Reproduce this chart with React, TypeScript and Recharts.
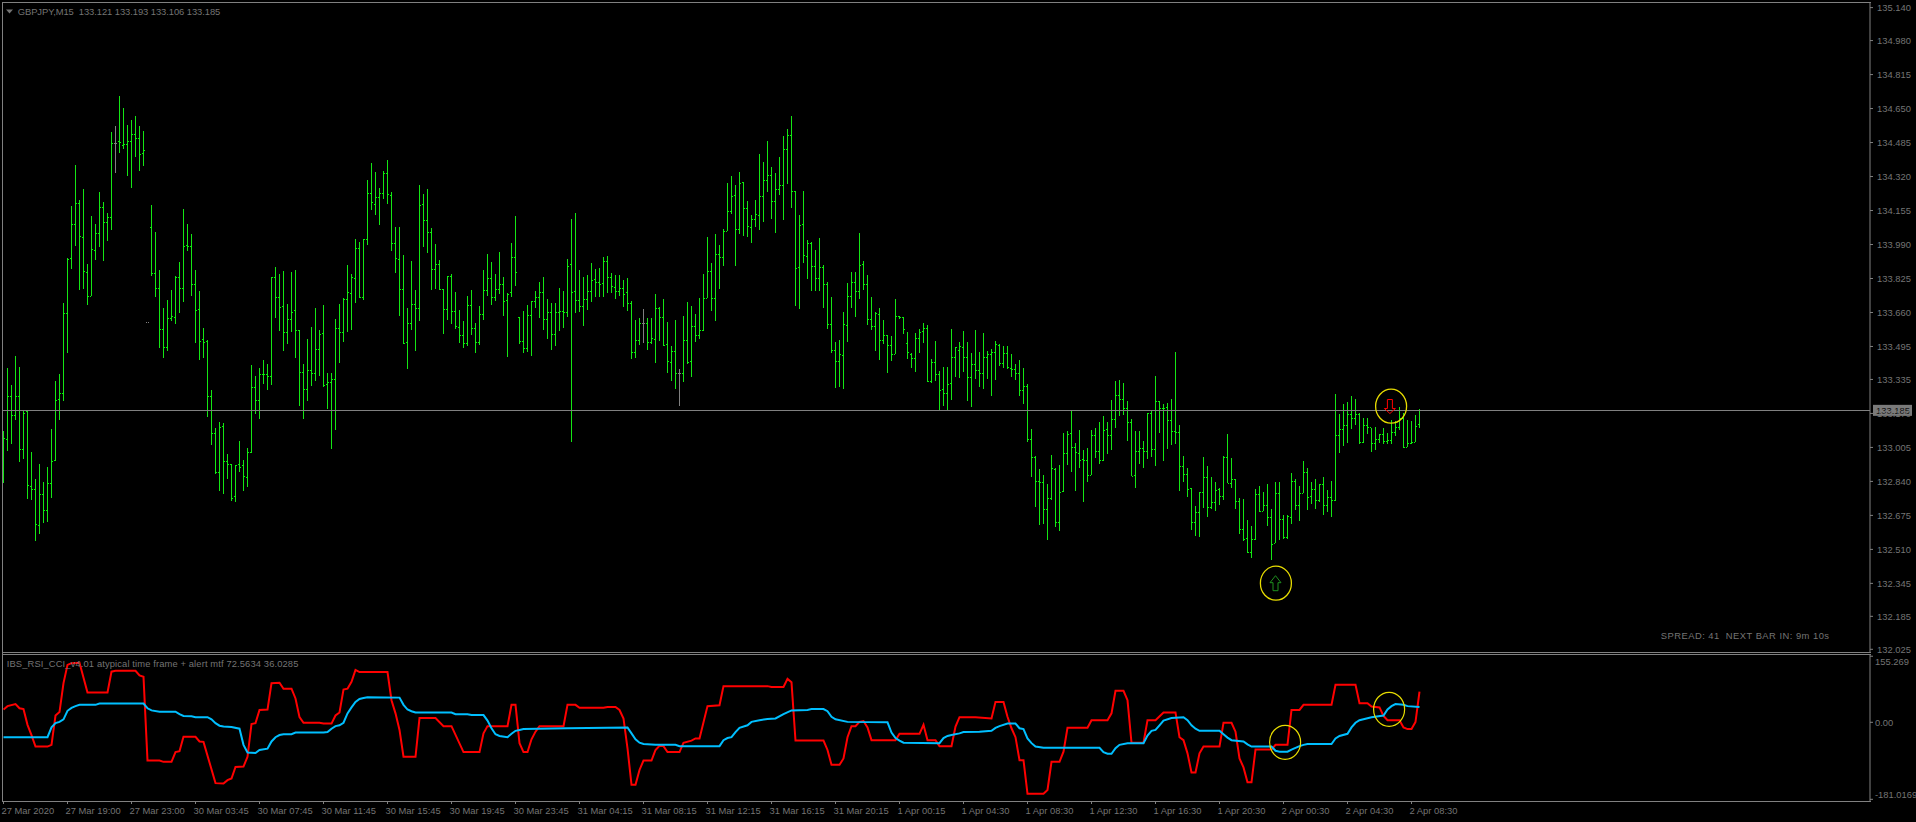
import React from 'react';
import { ComposedChart, Bar, Line, XAxis, YAxis, ReferenceLine, ReferenceDot } from 'recharts';

const highs = [
133.085,133.389,133.308,133.449,133.395,133.182,133.185,132.981,132.852,132.925,132.837,132.910,133.094,133.327,133.361,133.706,
133.923,134.177,134.376,134.205,134.260,133.895,134.128,134.090,134.245,134.196,134.143,134.536,134.565,134.711,134.653,134.570,
134.594,134.614,134.565,134.541,133.612,134.182,134.051,133.866,133.682,133.721,133.769,133.837,133.905,134.162,134.090,134.041,
133.866,133.764,133.585,133.526,133.284,133.099,133.128,133.124,132.973,132.925,132.920,133.036,132.944,133.002,133.405,133.352,
133.391,133.429,133.410,133.832,133.881,133.847,133.861,133.701,133.857,133.866,133.575,133.410,133.531,133.590,133.682,133.575,
133.696,133.366,133.366,133.628,133.701,133.729,133.890,133.847,134.017,134.002,134.017,134.303,134.386,134.342,134.264,134.347,
134.400,134.245,134.075,134.075,133.939,133.682,133.910,133.769,134.279,134.235,134.260,134.070,133.992,133.915,133.774,133.837,
133.847,133.759,133.672,133.619,133.740,133.769,133.609,133.692,133.866,133.944,133.905,133.847,133.954,133.832,133.755,133.997,
134.128,133.640,133.667,133.696,133.716,133.764,133.808,133.832,133.726,133.706,133.706,133.779,133.764,133.920,134.114,134.143,
133.866,133.832,133.842,133.900,133.871,133.876,133.929,133.934,133.852,133.842,133.842,133.818,133.828,133.716,133.624,133.633,
133.677,133.633,133.633,133.750,133.685,133.726,133.614,133.497,133.624,133.386,133.643,133.711,133.692,133.653,133.730,133.847,
134.027,133.900,134.041,133.988,134.065,134.289,134.323,134.279,134.342,134.293,134.201,134.133,134.206,134.429,134.391,134.493,
134.366,134.337,134.415,134.517,134.551,134.614,134.250,134.133,134.250,134.012,134.002,133.963,134.022,133.889,133.808,133.735,
133.517,133.526,133.662,133.803,133.857,133.857,134.046,133.910,133.842,133.735,133.662,133.682,133.624,133.551,133.546,133.726,
133.643,133.638,133.565,133.463,133.560,133.580,133.609,133.599,133.434,133.522,133.376,133.395,133.395,133.580,133.492,133.517,
133.570,133.517,133.463,133.575,133.468,133.560,133.473,133.483,133.522,133.507,133.497,133.497,133.459,133.410,133.429,133.391,
133.313,133.094,132.962,132.900,132.871,132.827,132.968,132.905,132.920,133.075,133.085,133.187,133.027,133.090,132.992,133.002,
133.090,133.099,133.128,133.158,133.128,133.235,133.327,133.332,133.318,133.230,133.143,133.085,133.085,133.036,133.172,133.182,
133.352,133.230,133.216,133.221,133.240,133.468,133.114,132.963,132.905,132.808,132.721,132.789,132.959,132.915,132.861,132.837,
132.808,132.963,133.070,132.954,132.852,132.759,132.755,132.653,132.624,132.803,132.818,132.789,132.827,132.706,132.837,132.837,
132.677,132.677,132.881,132.852,132.818,132.939,132.905,132.837,132.852,132.827,132.861,132.798,132.842,133.264,133.167,133.216,
133.226,133.255,133.240,133.172,133.148,133.148,133.099,133.104,133.070,133.099,133.075,133.138,133.133,133.201,133.172,133.138,
133.133,133.162,133.191];

const lows = [
132.834,132.984,133.023,133.140,132.936,132.950,132.755,132.746,132.551,132.586,132.640,132.645,132.761,132.939,133.140,133.230,
133.460,133.873,133.983,133.766,133.776,133.698,133.740,133.915,133.978,133.910,134.007,134.060,134.337,134.434,134.454,134.323,
134.264,134.415,134.347,134.371,133.612,133.837,133.735,133.488,133.439,133.473,133.619,133.604,133.658,133.711,133.959,133.740,
133.512,133.429,133.439,133.153,133.017,132.876,132.793,132.779,132.852,132.745,132.740,132.886,132.793,132.813,132.978,133.167,
133.143,133.313,133.284,133.308,133.633,133.570,133.473,133.507,133.565,133.439,133.206,133.143,133.230,133.303,133.327,133.352,
133.298,133.192,132.997,133.090,133.415,133.517,133.565,133.575,133.706,133.729,133.721,133.988,134.158,134.133,134.085,134.211,
134.187,133.959,133.852,133.643,133.507,133.386,133.575,133.473,133.619,133.978,133.949,133.769,133.774,133.769,133.556,133.624,
133.604,133.580,133.512,133.488,133.497,133.551,133.463,133.502,133.624,133.740,133.696,133.716,133.750,133.643,133.444,133.735,
133.789,133.507,133.463,133.468,133.449,133.682,133.633,133.575,133.531,133.478,133.497,133.570,133.585,133.638,133.031,133.658,
133.662,133.594,133.672,133.711,133.735,133.735,133.735,133.755,133.755,133.726,133.740,133.687,133.667,133.434,133.439,133.502,
133.512,133.478,133.507,133.415,133.522,133.497,133.366,133.327,133.289,133.206,133.323,133.410,133.347,133.517,133.531,133.570,
133.729,133.667,133.619,133.774,133.886,134.056,134.138,133.886,134.041,134.031,134.027,133.997,134.075,134.060,134.099,134.245,
134.114,134.046,134.230,134.109,134.284,134.167,133.692,133.677,133.900,133.823,133.764,133.764,133.764,133.682,133.580,133.463,
133.293,133.298,133.289,133.517,133.682,133.638,133.726,133.769,133.599,133.575,133.473,133.429,133.507,133.366,133.425,133.459,
133.628,133.556,133.434,133.391,133.371,133.463,133.512,133.323,133.318,133.327,133.185,133.206,133.185,133.235,133.347,133.342,
133.371,133.230,133.201,133.337,133.298,133.289,133.337,133.255,133.332,133.400,133.391,133.386,133.347,133.332,133.255,133.216,
133.031,132.861,132.716,132.628,132.633,132.556,132.750,132.619,132.599,132.789,132.920,132.886,132.793,132.905,132.740,132.837,
132.871,132.954,132.925,132.939,132.973,132.992,133.099,133.158,133.162,133.036,132.866,132.808,132.925,132.905,132.949,132.959,
132.915,133.075,132.939,132.997,133.017,133.022,132.793,132.837,132.764,132.604,132.575,132.570,132.711,132.667,132.706,132.696,
132.725,132.750,132.832,132.808,132.706,132.585,132.551,132.492,132.468,132.556,132.692,132.696,132.624,132.459,132.541,132.556,
132.561,132.561,132.633,132.701,132.648,132.784,132.701,132.730,132.706,132.740,132.677,132.692,132.667,132.745,132.978,133.012,
133.027,133.094,133.114,133.022,133.027,133.070,132.983,132.992,133.027,133.022,133.022,133.020,133.060,133.090,133.002,133.007,
133.022,133.031,133.099];

const opens = [
133.040,133.044,133.253,133.161,133.253,132.996,133.182,132.817,132.802,132.627,132.777,132.700,132.831,132.944,133.239,133.268,
133.658,133.923,134.088,134.190,134.027,133.857,133.739,133.962,134.044,134.171,134.098,134.122,134.481,134.491,134.472,134.477,
134.491,134.525,134.506,134.433,133.612,134.074,133.853,133.777,133.578,133.491,133.632,133.637,133.832,133.777,133.986,133.981,
133.797,133.677,133.530,133.520,133.253,133.074,132.886,133.109,132.938,132.923,132.768,132.923,132.920,132.860,132.981,133.297,
133.234,133.360,133.360,133.350,133.831,133.734,133.692,133.564,133.627,133.672,133.575,133.370,133.287,133.379,133.365,133.481,
133.559,133.312,133.321,133.336,133.587,133.564,133.724,133.753,133.829,133.972,133.734,134.015,134.239,134.185,134.219,134.239,
134.336,134.229,133.997,133.918,133.773,133.515,133.608,133.700,133.682,134.187,134.108,134.049,133.870,133.894,133.773,133.676,
133.836,133.666,133.588,133.549,133.511,133.695,133.583,133.515,133.651,133.768,133.826,133.734,133.773,133.797,133.719,133.759,
133.928,133.640,133.520,133.486,133.646,133.714,133.734,133.758,133.627,133.661,133.554,133.661,133.666,133.661,133.894,133.763,
133.719,133.690,133.724,133.763,133.821,133.807,133.802,133.909,133.831,133.782,133.763,133.777,133.758,133.705,133.467,133.525,
133.608,133.608,133.515,133.530,133.680,133.637,133.506,133.418,133.472,133.365,133.365,133.528,133.423,133.593,133.549,133.574,
133.729,133.860,133.729,133.943,133.928,134.054,134.151,134.229,134.064,134.292,134.166,134.073,134.112,134.132,134.224,134.302,
134.326,134.200,134.258,134.277,134.452,134.520,134.248,133.880,134.088,133.933,133.997,133.884,133.826,133.879,133.797,133.603,
133.477,133.423,133.452,133.598,133.739,133.807,133.763,133.894,133.797,133.627,133.593,133.651,133.525,133.549,133.501,133.457,
133.642,133.638,133.510,133.457,133.438,133.535,133.569,133.583,133.326,133.418,133.360,133.287,133.268,133.316,133.443,133.477,
133.491,133.443,133.345,133.409,133.379,133.365,133.443,133.457,133.467,133.502,133.413,133.462,133.389,133.384,133.365,133.282,
133.302,133.044,132.957,132.841,132.837,132.705,132.758,132.899,132.642,132.792,132.977,133.074,133.006,132.977,132.948,132.945,
132.870,133.064,132.986,132.943,133.093,133.065,133.143,133.258,133.239,133.195,133.127,132.870,132.986,133.001,132.986,133.171,
132.996,133.229,133.195,133.200,133.137,133.083,133.079,132.915,132.875,132.807,132.642,132.690,132.787,132.860,132.714,132.739,
132.802,132.768,132.959,132.831,132.850,132.744,132.607,132.565,132.496,132.559,132.777,132.695,132.724,132.666,132.540,132.782,
132.656,132.570,132.666,132.841,132.724,132.782,132.884,132.768,132.802,132.748,132.826,132.724,132.763,132.748,133.064,133.093,
133.112,133.166,133.146,133.166,133.030,133.112,133.103,133.025,133.044,133.069,133.035,133.040,133.079,133.103,133.148,133.006,
133.025,133.030,133.119];

const closes = [
133.049,133.253,133.161,133.253,132.996,133.171,132.821,132.802,132.632,132.777,132.700,132.831,132.941,133.234,133.268,133.658,
133.921,134.088,134.190,134.030,133.860,133.739,133.967,134.044,134.171,134.098,134.122,134.481,134.481,134.490,134.477,134.491,
134.525,134.506,134.428,134.447,133.612,133.853,133.777,133.578,133.491,133.632,133.642,133.832,133.777,133.981,133.981,133.797,
133.672,133.520,133.515,133.253,133.074,132.884,133.104,132.938,132.923,132.758,132.920,132.910,132.865,132.981,133.297,133.234,
133.360,133.360,133.350,133.831,133.734,133.687,133.564,133.627,133.661,133.575,133.370,133.287,133.379,133.365,133.481,133.554,
133.307,133.321,133.336,133.583,133.564,133.724,133.758,133.832,133.972,133.737,134.015,134.239,134.195,134.219,134.239,134.336,
134.234,133.997,133.923,133.773,133.511,133.608,133.700,133.682,134.182,134.108,134.049,133.870,133.894,133.773,133.676,133.836,
133.666,133.593,133.549,133.511,133.695,133.583,133.515,133.651,133.768,133.826,133.734,133.773,133.797,133.714,133.750,133.928,
133.855,133.520,133.486,133.646,133.714,133.734,133.758,133.627,133.661,133.554,133.661,133.666,133.661,133.884,133.758,133.719,
133.690,133.724,133.763,133.816,133.807,133.797,133.909,133.831,133.787,133.763,133.777,133.748,133.705,133.467,133.525,133.608,
133.608,133.515,133.535,133.680,133.637,133.501,133.423,133.472,133.365,133.365,133.528,133.418,133.593,133.549,133.574,133.729,
133.860,133.729,133.943,133.928,134.054,134.151,134.224,134.064,134.287,134.166,134.078,134.112,134.137,134.224,134.302,134.326,
134.200,134.258,134.277,134.452,134.520,134.248,133.875,134.083,133.938,133.997,133.884,133.826,133.879,133.797,133.603,133.477,
133.423,133.457,133.603,133.739,133.807,133.763,133.889,133.797,133.627,133.593,133.656,133.525,133.549,133.501,133.457,133.642,
133.638,133.578,133.467,133.438,133.535,133.564,133.583,133.326,133.418,133.360,133.282,133.268,133.311,133.443,133.491,133.496,
133.443,133.345,133.409,133.379,133.365,133.443,133.457,133.467,133.507,133.413,133.462,133.394,133.384,133.365,133.282,133.302,
133.044,132.957,132.841,132.837,132.705,132.758,132.904,132.642,132.787,132.977,133.069,133.006,132.981,132.943,132.945,132.870,
133.064,132.986,132.943,133.088,133.065,133.143,133.258,133.239,133.195,133.127,132.865,132.986,133.001,132.986,133.171,132.996,
133.229,133.195,133.195,133.137,133.083,133.079,132.915,132.875,132.802,132.642,132.690,132.787,132.860,132.714,132.739,132.797,
132.768,132.959,132.831,132.850,132.744,132.610,132.560,132.496,132.559,132.777,132.695,132.724,132.666,132.535,132.782,132.656,
132.570,132.671,132.841,132.724,132.782,132.884,132.763,132.802,132.748,132.826,132.724,132.763,132.748,133.064,133.093,133.112,
133.166,133.146,133.166,133.033,133.112,133.103,133.025,133.044,133.069,133.035,133.040,133.079,133.103,133.148,133.006,133.025,
133.030,133.108,133.185];

const dojiBars = [28, 36, 160, 169];

const redBars = [0,1,3,4,5,6,7,8,11,12,13,14,15,16,17,19,21,26,27,28,33,34,35,36,39,40,42,43,44,45,48,49,50,53,55,56,57,58,60,61,62,63,64,66,67,69,70,72,73,74,75,79,80,82,83,84,85,86,87,88,89,96,97,98,99,100,103,104,108,110,112,115,119,120,121,
126,127,128,129,130,131,132,133,134,140,141,143,144,150,151,153,154,155,156,157,158,159,160,162,163,164,165,166,169,170,172,173,174,176,179,180,191,192,195,196,197,198,205,206,207,209,210,211,212,213,214,215,216,217,223,224,229,230,231,233,234,237,238,239,243,
247,248,250,251,252,253,254,255,256,260,261,262,264,265,266,271,272,276,277,278,280,281,282,285,286,288,290,293,294,295,296,297,298,299,300,304,305,307,308,309,310,311,312,313,317,318,321,322,324,325,332,333,338,339,341,342,344,345,346,349,350,351,352,353,354];
const redVals = [30,38,43,33,31,-6,-30,-57,-57,-53,16,24,92,135,139,140,70,70,119,121,121,110,107,-90,-90,-93,-93,-70,-68,-34,-34,-45,-46,-143,-144,-136,-132,-105,-104,-81,-4,-2,29,30,92,93,79,79,56,12,-1,-1,-3,-3,16,23,77,79,95,123,118,118,52,21,-18,-81,-81,10,10,-9,-9,-70,-70,-26,-9,
-9,41,41,-49,-70,-70,-40,-22,-9,-9,41,41,34,34,36,36,29,9,-61,-147,-147,-112,-90,-90,-65,-55,-56,-70,-70,-48,-43,-38,-38,38,40,85,85,83,83,102,94,-43,-43,-65,-100,-100,-85,-35,-9,-9,1,3,-12,-42,-42,-27,-27,-6,-42,-42,-56,-56,-10,12,12,
9,48,48,13,-14,-35,-89,-89,-168,-168,-159,-93,-93,-69,-13,-13,5,5,21,74,74,52,-48,-48,5,5,23,23,-35,-42,-73,-118,-118,-73,-57,-57,-1,-1,-22,-85,-106,-141,-141,-64,-64,-53,-53,29,29,41,41,88,88,45,45,37,35,15,5,5,-12,-16,-16,1,72];

const blueBars = [0,11,12,13,14,15,16,17,18,19,23,24,35,36,37,39,43,44,45,47,48,51,52,53,54,55,57,59,60,61,63,64,66,67,68,69,70,72,73,80,81,82,83,84,85,86,87,88,89,90,91,99,100,101,102,103,112,113,116,117,120,121,122,123,124,
126,127,128,129,130,141,156,157,158,159,160,162,163,168,169,179,180,181,182,183,184,186,187,189,191,193,195,197,201,202,205,206,207,208,211,221,222,223,224,225,234,235,236,237,239,240,244,
247,248,249,251,253,254,255,256,257,258,260,274,275,276,277,278,279,281,285,286,287,288,289,290,292,295,296,297,298,299,304,305,306,307,310,311,312,317,318,319,321,322,324,325,326,332,333,334,336,337,338,339,342,345,346,347,348,350,351,354];
const blueVals = [-35,-35,-12,-2,1,7,27,34,38,41,41,44,44,33,28,25,25,19,15,14,12,12,7,-2,-8,-10,-11,-15,-53,-71,-72,-65,-62,-45,-35,-30,-28,-28,-24,-24,-23,-15,-9,-7,-1,21,35,48,55,57,59,58,41,30,26,23,23,19,19,17,17,4,-14,-28,-32,
-35,-27,-20,-18,-16,-14,-12,-26,-40,-48,-51,-52,-53,-53,-56,-56,-42,-37,-35,-23,-13,-7,1,5,8,9,19,28,29,31,31,26,13,7,1,0,-24,-37,-43,-48,-49,-37,-32,-30,-26,-23,-22,
-20,-13,-9,-3,-3,-14,-16,-38,-49,-57,-60,-60,-70,-74,-74,-61,-53,-49,-49,-31,-20,-18,-7,4,10,12,5,-7,-15,-20,-20,-28,-36,-42,-45,-52,-57,-57,-67,-69,-69,-64,-56,-53,-51,-51,-38,-32,-27,-12,-1,5,12,16,30,38,43,41,38,36];

const xLabels = ['27 Mar 2020','27 Mar 19:00','27 Mar 23:00','30 Mar 03:45','30 Mar 07:45','30 Mar 11:45','30 Mar 15:45','30 Mar 19:45','30 Mar 23:45','31 Mar 04:15','31 Mar 08:15','31 Mar 12:15','31 Mar 16:15','31 Mar 20:15','1 Apr 00:15','1 Apr 04:30','1 Apr 08:30','1 Apr 12:30','1 Apr 16:30','1 Apr 20:30','2 Apr 00:30','2 Apr 04:30','2 Apr 08:30'];
const xTickBars = [0,16,32,48,64,80,96,112,128,144,160,176,192,208,224,240,256,272,288,304,320,336,352];
const priceTicks = [135.14,134.98,134.815,134.65,134.485,134.32,134.155,133.99,133.825,133.66,133.495,133.335,133.17,133.005,132.84,132.675,132.51,132.345,132.185,132.025];
const indTicks = [155.269, 0, -181.0169];
const indTickText = ['155.269','0.00','-181.0169'];
const lastPrice = 133.185;
const header = 'GBPJPY,M15  133.121 133.193 133.106 133.185';
const indicatorTitle = 'IBS_RSI_CCI_v4.01 atypical time frame + alert mtf 72.5634 36.0285';
const footer = 'SPREAD: 41  NEXT BAR IN: 9m 10s';

const upArrow = { bar: 318, price: 132.346 };
const downArrow = { bar: 346.6, price: 133.206 };
const priceCircles = [{ bar: 318.1, price: 132.346 }, { bar: 346.9, price: 133.205 }];
const indCircles = [{ bar: 320.4, value: -47 }, { bar: 346.4, value: 30.6 }];

const W = 1916, H = 822;
const FONT = '"Liberation Sans", Arial, sans-serif';
const GRAY = '#808080';
const TXT = '#747474';
const FS = 9.4;

const priceRows = highs.map((high, i) => ({ i, high, low: lows[i], open: opens[i], close: closes[i], range: [lows[i], high] }));
const indRows = highs.map((_, i) => {
  const r = redBars.indexOf(i), b = blueBars.indexOf(i);
  return { i, red: r >= 0 ? redVals[r] : null, blue: b >= 0 ? blueVals[b] : null };
});

const OhlcShape = (p: any) => {
  const { x, y, width, height, payload } = p;
  const { high, low, open, close, i } = payload;
  const px = Math.floor(x + width / 2);
  const top = Math.min(y, y + height);
  const h = Math.abs(height);
  const k = high > low ? h / (high - low) : 0;
  const yo = Math.round(top + (high - open) * k);
  const yc = Math.round(top + (high - close) * k);
  const doji = dojiBars.includes(i);
  const col = doji ? GRAY : '#14e614';
  const tick = doji ? GRAY : '#00ff00';
  return (
    <g shapeRendering="crispEdges">
      <rect x={px} y={Math.round(top)} width={1} height={Math.max(1, Math.round(h))} fill={h > 0.5 ? col : 'none'} />
      <rect x={px - 1} y={yo} width={1} height={1} fill={tick} />
      <rect x={px + 1} y={yc} width={1} height={1} fill={tick} />
    </g>
  );
};

const PriceTick = (p: any) => (
  <text x={p.x + 2} y={p.y + 3.5} fill={TXT} fontFamily={FONT} fontSize={FS}>{Number(p.payload.value).toFixed(3)}</text>
);
const IndTick = (p: any) => {
  const idx = indTicks.indexOf(p.payload.value);
  const dy = idx === 0 ? 9 : idx === 2 ? -1 : 4;
  return <text x={p.x} y={p.y + dy} fill={TXT} fontFamily={FONT} fontSize={FS}>{indTickText[idx]}</text>;
};
const TimeTick = (p: any) => {
  const idx = xTickBars.indexOf(p.payload.value);
  return <text x={p.x - 2} y={814} fill={TXT} fontFamily={FONT} fontSize={FS}>{xLabels[idx]}</text>;
};
const PriceTag = (p: any) => {
  const y = p.viewBox.y;
  return (
    <g>
      <rect x={1873} y={y - 5.5} width={39} height={11} fill="#7a7a7a" />
      <text x={1876} y={y + 3.5} fill="#111" fontFamily={FONT} fontSize={FS}>{lastPrice.toFixed(3)}</text>
    </g>
  );
};
const Ring = (stroke: string, sw: number) => (p: any) => (
  <ellipse cx={p.cx} cy={p.cy} rx={15.5} ry={17} fill="none" stroke={stroke} strokeWidth={sw} />
);
const UpArrowShape = (p: any) => {
  const { cx, cy } = p;
  return <path d={`M${cx} ${cy - 7.5}L${cx + 5.5} ${cy - 0.5}H${cx + 2.5}V${cy + 7.5}H${cx - 2.5}V${cy - 0.5}H${cx - 5.5}Z`} fill="none" stroke="#1f8f1f" strokeWidth={1} />;
};
const DownArrowShape = (p: any) => {
  const { cx, cy } = p;
  return <path d={`M${cx} ${cy + 7.5}L${cx + 5.5} ${cy + 2.5}H${cx + 2.5}V${cy - 6.5}H${cx - 2.5}V${cy + 2.5}H${cx - 5.5}Z`} fill="none" stroke="#ff0000" strokeWidth={1} />;
};
const Rule = ({ x, y, w, h }: any) => <div style={{ position: 'absolute', left: x, top: y, width: w, height: h, background: GRAY }} />;
const Abs = { position: 'absolute', left: 0, top: 0 } as const;
const xDomain: [number, number] = [-0.125, 466.625];

export default function App() {
  return (
    <div style={{ position: 'fixed', left: 0, top: 0, width: W, height: H, background: '#000', overflow: 'hidden' }}>
      <div style={Abs}>
        <ComposedChart width={W} height={655} data={priceRows} margin={{ top: 3, right: 0, bottom: 3, left: 3 }}>
          <XAxis dataKey="i" type="number" domain={xDomain} hide allowDataOverflow />
          <YAxis orientation="right" width={46} type="number" domain={[132.0119, 135.1624]} allowDataOverflow ticks={priceTicks} interval={0}
            axisLine={{ stroke: GRAY }} tickLine={{ stroke: GRAY }} tickSize={3} tick={<PriceTick />} />
          <ReferenceLine y={lastPrice} stroke={GRAY} strokeWidth={1} shapeRendering="crispEdges" label={<PriceTag />} />
          <Bar dataKey="range" barSize={1} shape={<OhlcShape />} isAnimationActive={false} />
          {priceCircles.map((c, k) => (
            <ReferenceDot key={k} x={c.bar} y={c.price} shape={Ring('#e8dc00', 1.3)} />
          ))}
          <ReferenceDot x={upArrow.bar} y={upArrow.price} shape={UpArrowShape} />
          <ReferenceDot x={downArrow.bar} y={downArrow.price} shape={DownArrowShape} />
        </ComposedChart>
      </div>
      <div style={{ ...Abs, top: 0 }}>
        <ComposedChart width={W} height={H} data={indRows} margin={{ top: 655, right: 0, bottom: 0, left: 3 }}>
          <XAxis dataKey="i" type="number" domain={xDomain} allowDataOverflow ticks={xTickBars} interval={0} height={21}
            axisLine={false} tickLine={{ stroke: GRAY }} tickSize={3} tick={<TimeTick />} />
          <YAxis orientation="right" width={46} type="number" domain={[-184.96, 158.17]} allowDataOverflow ticks={indTicks} interval={0}
            axisLine={{ stroke: GRAY }} tickLine={{ stroke: GRAY }} tickSize={3} tick={<IndTick />} />
          <Line dataKey="red" type="linear" connectNulls stroke="#ff0000" strokeWidth={2} dot={false} isAnimationActive={false} />
          <Line dataKey="blue" type="linear" connectNulls stroke="#00bfff" strokeWidth={2} dot={false} isAnimationActive={false} />
          {indCircles.map((c, k) => (
            <ReferenceDot key={k} x={c.bar} y={c.value} shape={Ring('#e6dc00', 1.2)} />
          ))}
        </ComposedChart>
      </div>
      <Rule x={2} y={2} w={1869} h={1} />
      <Rule x={2} y={2} w={1} h={800} />
      <Rule x={2} y={652} w={1869} h={1} />
      <Rule x={2} y={654} w={1869} h={1} />
      <Rule x={2} y={801} w={1869} h={1} />
      <svg width={W} height={H} style={{ ...Abs, pointerEvents: 'none' }}>
        <path d="M6 9.5H13L9.5 13.5Z" fill={TXT} />
        <text x={17.7} y={14.5} fill={TXT} fontFamily={FONT} fontSize={FS} xmlSpace="preserve" textLength={202.6}>{header}</text>
        <text x={6.7} y={667} fill={TXT} fontFamily={FONT} fontSize={FS} textLength={291.7}>{indicatorTitle}</text>
        <text x={1660.7} y={638.5} fill={TXT} fontFamily={FONT} fontSize={FS} xmlSpace="preserve" textLength={168.3}>{footer}</text>
      </svg>
    </div>
  );
}
